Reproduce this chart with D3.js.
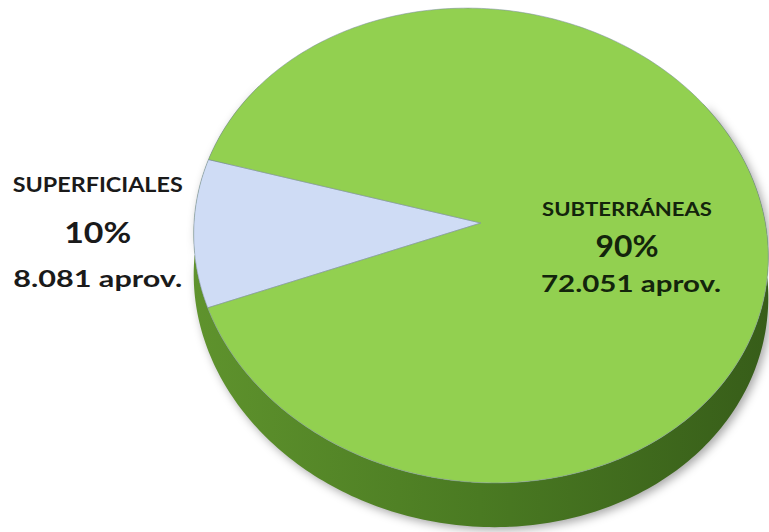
<!DOCTYPE html>
<html>
<head>
<meta charset="utf-8">
<script src="https://cdn.jsdelivr.net/npm/d3@7"></script>
<style>
  body { margin: 0; background: #fff; }
  text { font-family: Lato, "Open Sans", sans-serif; font-weight: bold; }
</style>
</head>
<body>
<svg id="chart" width="769" height="532"></svg>
<script>
// data
const categories = ["SUPERFICIALES", "SUBTERRÁNEAS"];
const percents = [10, 90];
const counts = [8081, 72051];

const colors = ["#cfdcf5", "#92d050"];
const textColors = ["#1a1a1a", "#13240c"];

const es = d3.formatLocale({ decimal: ",", thousands: ".", grouping: [3], currency: ["", " €"] });
const fmtCount = es.format(",");

// fake 3D pie geometry
const cx = 481, cy = 223;
const R = 286, RY = 235;
const persp = 0.095;
const shy = 0.04;
const depth = 40;
const deg = Math.PI / 180;

const rim = (a, dz = 0) => {
  const x = Math.sin(a), y = -Math.cos(a);
  const s = 1 / (1 - persp * y);
  const px = R * x * s, py = RY * y * s;
  return [cx + px, cy + py + shy * px + dz * s];
};

const arcPoints = (a0, a1, dz = 0) => {
  const n = Math.max(2, Math.ceil((a1 - a0) / deg));
  return d3.range(n + 1).map((i) => rim(a0 + ((a1 - a0) * i) / n, dz));
};

const line = d3.line();

const data = categories.map((c, i) => ({ name: c, pct: percents[i], count: counts[i] }));
const start = 246.9 * deg;
const pie = d3.pie().sort(null).value((d) => d.count).startAngle(start).endAngle(start + 2 * Math.PI);
const slices = pie(data);

const svg = d3.select("#chart");
const defs = svg.append("defs");

const grad = defs.append("linearGradient")
  .attr("id", "side")
  .attr("gradientUnits", "userSpaceOnUse")
  .attr("x1", 190).attr("x2", 770).attr("y1", 0).attr("y2", 0);
grad.append("stop").attr("offset", 0).attr("stop-color", "#5f932d");
grad.append("stop").attr("offset", 0.5).attr("stop-color", "#4a7a22");
grad.append("stop").attr("offset", 1).attr("stop-color", "#375d19");

defs.append("filter")
  .attr("id", "blur")
  .attr("x", "-20%").attr("y", "-20%").attr("width", "140%").attr("height", "140%")
  .append("feGaussianBlur").attr("stdDeviation", 5);

// side band: front half of the rim swept down by depth
const sideTop = arcPoints(55 * deg, 305 * deg);
const sideBottom = arcPoints(55 * deg, 305 * deg, depth).reverse();
const sidePath = line(sideTop.concat(sideBottom)) + "Z";

svg.append("path")
  .attr("d", sidePath)
  .attr("transform", "translate(3,3)")
  .attr("fill", "#000")
  .attr("fill-opacity", 0.35)
  .attr("filter", "url(#blur)");

svg.append("path")
  .attr("d", sidePath)
  .attr("fill", "url(#side)");

// top face
svg.selectAll("path.slice")
  .data(slices)
  .enter()
  .append("path")
  .attr("class", "slice")
  .attr("d", (d) => line([[cx, cy]].concat(arcPoints(d.startAngle, d.endAngle))) + "Z")
  .attr("fill", (d, i) => colors[i])
  .attr("stroke", "#7e8fa0")
  .attr("stroke-opacity", 0.7)
  .attr("stroke-width", 0.8)
  .attr("stroke-linejoin", "round");

// labels
const labelLayout = [
  { x: (d) => rim((d.startAngle + d.endAngle) / 2)[0] - 96, y: 192, sizes: [20, 28, 23], gaps: [0, 51, 95], widths: [170, 67, 169] },
  { x: () => cx + 146, y: 216, sizes: [18, 30, 22], gaps: [0, 41, 76], widths: [170, 63, 180] },
];

slices.forEach((d, i) => {
  const L = labelLayout[i];
  const lines = [d.data.name, d.data.pct + "%", fmtCount(d.data.count) + " aprov."];
  const g = svg.append("g").attr("fill", textColors[i]);
  lines.forEach((t, k) => {
    g.append("text")
      .attr("x", L.x(d) + (k === 2 && i === 1 ? 4 : 0))
      .attr("y", L.y + L.gaps[k])
      .attr("text-anchor", "middle")
      .attr("font-size", L.sizes[k])
      .attr("textLength", L.widths[k])
      .attr("lengthAdjust", "spacingAndGlyphs")
      .text(t);
  });
});
</script>
</body>
</html>
